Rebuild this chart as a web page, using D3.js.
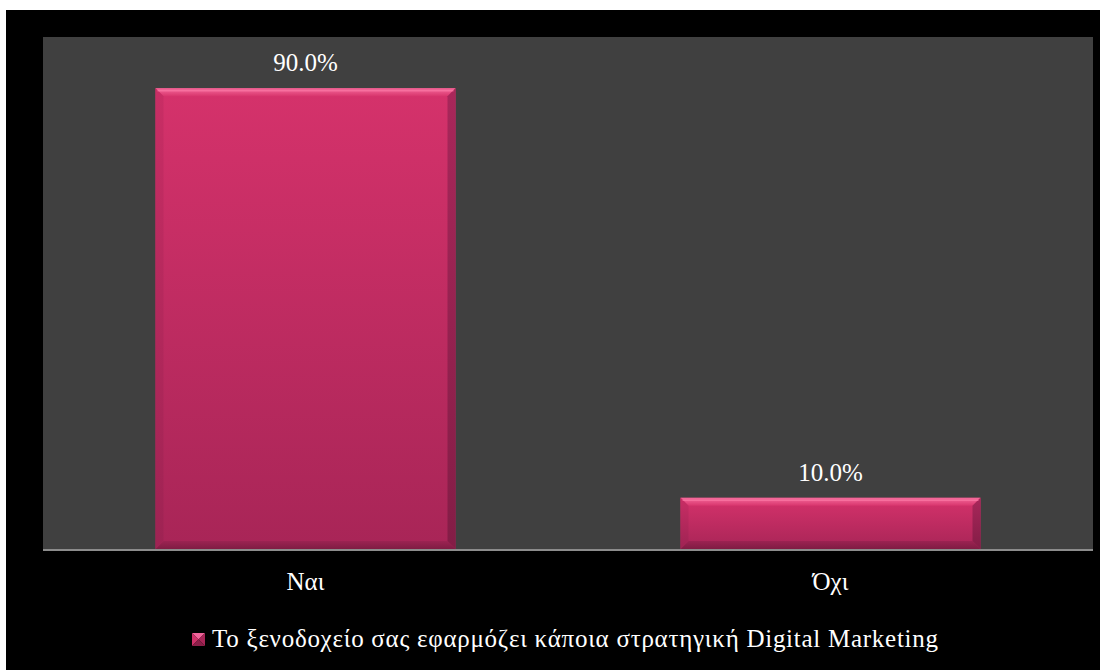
<!DOCTYPE html>
<html>
<head>
<meta charset="utf-8">
<script src="https://cdn.jsdelivr.net/npm/d3@7/dist/d3.min.js"></script>
<style>
  html, body { margin: 0; padding: 0; background: #ffffff; }
  svg { display: block; }
  text { font-family: "Liberation Serif", "Times New Roman", serif; fill: #ffffff; }
</style>
</head>
<body>
<svg id="chart" width="1100" height="670"></svg>
<script>
// Survey answers and shares
const categories = ["Ναι", "Όχι"];
const values = [0.90, 0.10];
const seriesName = "Το ξενοδοχείο σας εφαρμόζει κάποια στρατηγική Digital Marketing";

const W = 1100, H = 670;
const frame = { x: 6, y: 10 };
const plot = { left: 43, right: 1093, top: 37, bottom: 549 };

const svg = d3.select("#chart");

// Gradients for the bar faces and bevels
const defs = svg.append("defs");
function vGrad(id, stops) {
  const g = defs.append("linearGradient").attr("id", id)
    .attr("x1", 0).attr("y1", 0).attr("x2", 0).attr("y2", 1);
  stops.forEach(([o, c]) => g.append("stop").attr("offset", o).attr("stop-color", c));
}
vGrad("face", [[0, "#d5326b"], [1, "#a82557"]]);
vGrad("bevelTop", [[0, "#f56a9b"], [1, "#d8356d"]]);
vGrad("bevelBottom", [[0, "#9c2352"], [1, "#7f1c43"]]);
vGrad("bevelLeft", [[0, "#c92e65"], [1, "#9e2353"]]);
vGrad("bevelRight", [[0, "#a8275a"], [1, "#831d46"]]);

// Outer black chart area
svg.append("rect").attr("x", frame.x).attr("y", frame.y)
  .attr("width", W - frame.x).attr("height", H - frame.y).attr("fill", "#000000");

// Plot area
svg.append("rect").attr("x", plot.left).attr("y", plot.top)
  .attr("width", plot.right - plot.left).attr("height", plot.bottom - plot.top)
  .attr("fill", "#404040");

const x = d3.scaleBand().domain(categories)
  .range([plot.left, plot.right])
  .paddingInner(0.75 / 1.75).paddingOuter(0.375 / 1.75);
const y = d3.scaleLinear().domain([0, 1]).range([plot.bottom, plot.top]);

const data = categories.map((c, i) => ({ cat: c, v: values[i] }));

// Bevelled bars
const bars = svg.append("g").selectAll("g").data(data).join("g");
bars.each(function(d) {
  const g = d3.select(this);
  const x0 = x(d.cat), x1 = x0 + x.bandwidth();
  const y0 = y(d.v), y1 = y(0);
  const b = Math.min(8, (y1 - y0) / 3);
  g.append("rect").attr("x", x0).attr("y", y0).attr("width", x1 - x0).attr("height", y1 - y0)
    .attr("fill", "url(#face)");
  const poly = (pts, fill) => g.append("polygon")
    .attr("points", pts.map(p => p.join(",")).join(" ")).attr("fill", fill);
  poly([[x0, y0], [x1, y0], [x1 - b, y0 + b], [x0 + b, y0 + b]], "url(#bevelTop)");
  poly([[x0, y1], [x1, y1], [x1 - b, y1 - b], [x0 + b, y1 - b]], "url(#bevelBottom)");
  poly([[x0, y0], [x0 + b, y0 + b], [x0 + b, y1 - b], [x0, y1]], "url(#bevelLeft)");
  poly([[x1, y0], [x1 - b, y0 + b], [x1 - b, y1 - b], [x1, y1]], "url(#bevelRight)");
  // thin highlight along the top edge
  g.append("line").attr("x1", x0 + 2).attr("x2", x1 - 2).attr("y1", y0 + 2.5).attr("y2", y0 + 2.5)
    .attr("stroke", "#ff7fab").attr("stroke-width", 1.5).attr("opacity", 0.6);
});

// Value labels
svg.append("g").selectAll("text").data(data).join("text")
  .attr("x", d => x(d.cat) + x.bandwidth() / 2)
  .attr("y", d => y(d.v) - 17)
  .attr("text-anchor", "middle")
  .attr("font-size", 25)
  .text(d => d3.format(".1%")(d.v));

// Category axis
const xAxis = svg.append("g").attr("transform", `translate(0,${plot.bottom + 1})`)
  .call(d3.axisBottom(x).tickSize(0).tickPadding(0));
xAxis.select(".domain").attr("stroke", "#8c8c8c").attr("stroke-width", 2)
  .attr("d", `M${plot.left},0H${plot.right}`);
xAxis.selectAll("text")
  .attr("font-family", "Liberation Serif, Times New Roman, serif")
  .attr("font-size", 25).attr("fill", "#ffffff")
  .attr("dy", null).attr("y", 40);

// Legend
const legend = svg.append("g");
legend.append("text").attr("x", 212).attr("y", 647)
  .attr("font-size", 25)
  .attr("textLength", 726).attr("lengthAdjust", "spacing")
  .text(seriesName);
const mx = 192, my = 633, ms = 13, c = ms / 2;
const tri = (pts, fill) => legend.append("polygon")
  .attr("points", pts.map(p => p.join(",")).join(" ")).attr("fill", fill);
tri([[mx, my], [mx + ms, my], [mx + c, my + c]], "#f0649a");
tri([[mx, my], [mx + c, my + c], [mx, my + ms]], "#cf3169");
tri([[mx + ms, my], [mx + c, my + c], [mx + ms, my + ms]], "#a82557");
tri([[mx, my + ms], [mx + c, my + c], [mx + ms, my + ms]], "#8c1f49");
</script>
</body>
</html>
